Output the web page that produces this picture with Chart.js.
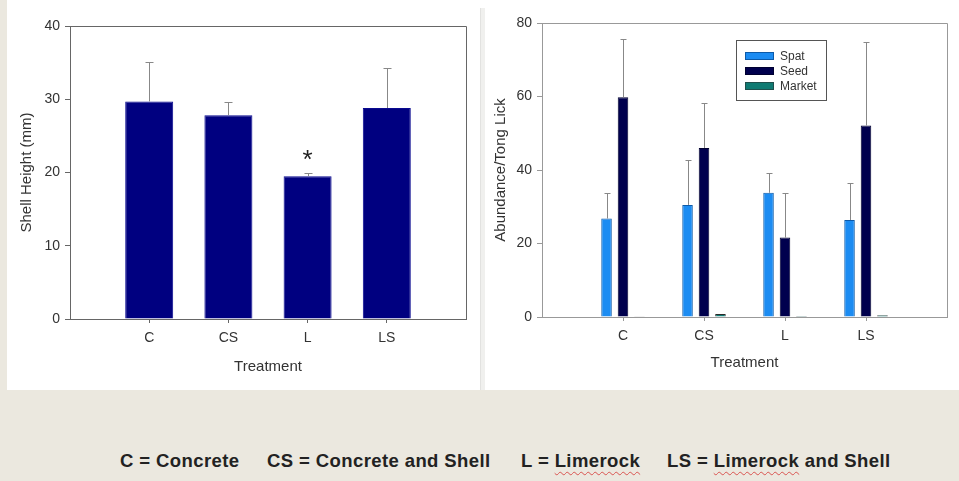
<!DOCTYPE html>
<html>
<head>
<meta charset="utf-8">
<script src="https://cdn.jsdelivr.net/npm/chart.js@4/dist/chart.umd.min.js"></script>
<style>
  html, body { margin: 0; padding: 0; }
  body { width: 959px; height: 481px; background: #ebe8df; position: relative; overflow: hidden; font-family: "Liberation Sans", Arial, sans-serif; }
  .panel { position: absolute; background: #ffffff; }
  .divider { position: absolute; left: 480px; top: 8px; width: 4px; height: 382px; background: #f0f0ee; border-left: 1px solid #e2e2e0; }
  canvas { position: absolute; top: 0; }
  #heightChart { left: 0; }
  #abundanceChart { left: 480px; }
  .key { position: absolute; top: 450px; font-size: 18.5px; font-weight: bold; color: #222; white-space: nowrap; letter-spacing: 0.4px; }
  .spell { text-decoration: underline wavy #d9534f; text-decoration-thickness: 1px; text-underline-offset: 4px; }
</style>
</head>
<body>
<div class="panel" style="left:7px; top:0; width:952px; height:390px;"></div>
<div class="divider"></div>
<canvas id="heightChart" width="480" height="390"></canvas>
<canvas id="abundanceChart" width="479" height="390"></canvas>

<div class="key" style="left:120px;">C = Concrete</div>
<div class="key" style="left:267px;">CS = Concrete and Shell</div>
<div class="key" style="left:521px;">L = <span class="spell">Limerock</span></div>
<div class="key" style="left:667px;">LS = <span class="spell">Limerock</span> and Shell</div>

<script>
// Treatments (substrates)
const categories = ['C', 'CS', 'L', 'LS'];

// Mean shell height (mm) per treatment, with standard error
const shellHeight = [29.7, 27.8, 19.5, 28.8];
const shellHeightErr = [5.4, 1.8, 0.4, 5.4];
const significance = ['', '', '*', ''];

// Abundance per tong lick by size class, with standard error
const seriesNames = ['Spat', 'Seed', 'Market'];
const spat = [26.8, 30.5, 33.8, 26.4];
const spatErr = [7.0, 12.2, 5.5, 10.1];
const seed = [59.8, 46.0, 21.6, 52.1];
const seedErr = [15.8, 12.2, 12.2, 22.6];
const market = [0.2, 0.8, 0.3, 0.5];
const marketErr = [0, 0, 0, 0];

const heightTicks = [0, 10, 20, 30, 40];
const abundanceTicks = [0, 20, 40, 60, 80];

const FONT = "'Liberation Sans', Arial, sans-serif";
const TEXT = '#333333';

// Categories sit at 1..n on a linear axis running 0..n+1
const toPoints = vals => vals.map((v, i) => ({ x: i + 1, y: v }));

function categoryAxis(axisHeight, titlePad, color) {
  return {
    type: 'linear',
    min: 0,
    max: categories.length + 1,
    offset: false,
    afterBuildTicks: s => { s.ticks = categories.map((c, i) => ({ value: i + 1 })); },
    afterFit: s => { s.height = axisHeight; },
    ticks: {
      autoSkip: false,
      maxRotation: 0,
      padding: 7,
      color: TEXT,
      font: { family: FONT, size: 14 },
      callback: v => categories[v - 1] ?? ''
    },
    grid: { drawOnChartArea: false, drawTicks: true, tickLength: 4, offset: false, color: color },
    border: { display: true, color: color, width: 1 },
    title: { display: true, text: 'Treatment', color: TEXT, font: { family: FONT, size: 15 }, padding: { top: 0, bottom: titlePad } }
  };
}

function valueAxis(ticks, width, titleText, titlePad, color) {
  return {
    type: 'linear',
    min: ticks[0],
    max: ticks[ticks.length - 1],
    afterBuildTicks: s => { s.ticks = ticks.map(v => ({ value: v })); },
    afterFit: s => { s.width = width; },
    ticks: { padding: 5, color: TEXT, font: { family: FONT, size: 14 } },
    grid: { drawOnChartArea: false, drawTicks: true, tickLength: 5, color: color },
    border: { display: true, color: color, width: 1 },
    title: { display: true, text: titleText, color: TEXT, font: { family: FONT, size: 15 }, padding: { top: titlePad, bottom: 0 } }
  };
}

// Closes the plot frame on the top and right
const frame = {
  id: 'frame',
  afterDraw(chart, args, opts) {
    const { ctx, chartArea: a } = chart;
    ctx.save();
    ctx.strokeStyle = opts.color;
    ctx.lineWidth = 1;
    ctx.beginPath();
    ctx.moveTo(Math.round(a.left) + 0.5, Math.round(a.top) + 0.5);
    ctx.lineTo(Math.round(a.right) + 0.5, Math.round(a.top) + 0.5);
    ctx.lineTo(Math.round(a.right) + 0.5, Math.round(a.bottom) + 0.5);
    ctx.stroke();
    ctx.restore();
  }
};

// Upper standard-error whiskers, plus significance marks
const errorBars = {
  id: 'errorBars',
  afterDatasetsDraw(chart, args, opts) {
    const { ctx } = chart;
    const yScale = chart.scales.y;
    ctx.save();
    chart.data.datasets.forEach((ds, di) => {
      if (!ds.errors) return;
      const meta = chart.getDatasetMeta(di);
      meta.data.forEach((bar, j) => {
        const err = ds.errors[j];
        const v = ds.data[j].y;
        const x = Math.round(bar.x) + 0.5;
        const yTop = yScale.getPixelForValue(v + err);
        if (err > 0) {
          ctx.strokeStyle = opts.color;
          ctx.lineWidth = 1;
          ctx.beginPath();
          ctx.moveTo(x, bar.y);
          ctx.lineTo(x, Math.round(yTop) + 0.5);
          ctx.moveTo(x - opts.cap, Math.round(yTop) + 0.5);
          ctx.lineTo(x + opts.cap, Math.round(yTop) + 0.5);
          ctx.stroke();
        }
        const mark = ds.marks && ds.marks[j];
        if (mark) {
          ctx.fillStyle = '#222';
          ctx.font = '26px ' + FONT;
          ctx.textAlign = 'center';
          ctx.textBaseline = 'alphabetic';
          const m = ctx.measureText(mark);
          const cy = yTop - 18;
          ctx.fillText(mark, bar.x, cy + (m.actualBoundingBoxAscent - m.actualBoundingBoxDescent) / 2);
        }
      });
    });
    ctx.restore();
  }
};

// Boxed legend drawn inside the plot
const boxLegend = {
  id: 'boxLegend',
  afterDraw(chart, args, opts) {
    if (!opts.box) return;
    const { ctx } = chart;
    const b = opts.box;
    ctx.save();
    ctx.fillStyle = '#ffffff';
    ctx.fillRect(b.x, b.y, b.w, b.h);
    ctx.strokeStyle = '#555';
    ctx.lineWidth = 1;
    ctx.strokeRect(b.x + 0.5, b.y + 0.5, b.w, b.h);
    ctx.font = '12px ' + FONT;
    ctx.textBaseline = 'middle';
    ctx.textAlign = 'left';
    chart.data.datasets.forEach((ds, i) => {
      const cy = b.y + opts.firstRow + i * opts.rowGap;
      ctx.fillStyle = ds.backgroundColor;
      ctx.fillRect(b.x + 9, cy - 4, 29, 8);
      ctx.strokeStyle = ds.legendEdge || ds.borderColor;
      ctx.strokeRect(b.x + 9.5, cy - 3.5, 28, 7);
      ctx.fillStyle = TEXT;
      ctx.fillText(ds.label, b.x + 44, cy + 0.5);
    });
    ctx.restore();
  }
};

new Chart(document.getElementById('heightChart'), {
  type: 'bar',
  data: {
    datasets: [{
      label: 'Shell Height',
      data: toPoints(shellHeight),
      errors: shellHeightErr,
      marks: significance,
      backgroundColor: '#000080',
      borderColor: '#0a0a90',
      borderWidth: 1,
      categoryPercentage: 1,
      barPercentage: 0.606
    }]
  },
  options: {
    responsive: false,
    animation: false,
    layout: { padding: { top: 26, right: 14, bottom: 0, left: 0 } },
    plugins: {
      legend: { display: false },
      tooltip: { enabled: false },
      frame: { color: '#666' },
      errorBars: { color: '#888', cap: 4 }
    },
    scales: {
      x: categoryAxis(71, 14, '#666'),
      y: valueAxis(heightTicks, 70, 'Shell Height (mm)', 17.5, '#666')
    }
  },
  plugins: [frame, errorBars]
});

const seriesStyle = [
  { bg: '#1c8cf2', border: '#0d5aa8', edge: '#0d5aa8' },
  { bg: '#00004e', border: '#000030', edge: '#000030' },
  { bg: '#0f7a72', border: '#2a2a2a', edge: '#1f4f4c' }
];
const abundanceSeries = [spat, seed, market];
const abundanceErrs = [spatErr, seedErr, marketErr];

new Chart(document.getElementById('abundanceChart'), {
  type: 'bar',
  data: {
    datasets: seriesNames.map((name, i) => ({
      label: name,
      data: toPoints(abundanceSeries[i]),
      errors: abundanceErrs[i],
      backgroundColor: seriesStyle[i].bg,
      borderColor: seriesStyle[i].border,
      legendEdge: seriesStyle[i].edge,
      borderWidth: 1,
      categoryPercentage: 0.61,
      barPercentage: 0.64
    }))
  },
  options: {
    responsive: false,
    animation: false,
    layout: { padding: { top: 23, right: 12, bottom: 0, left: 0 } },
    plugins: {
      legend: { display: false },
      tooltip: { enabled: false },
      frame: { color: '#999' },
      errorBars: { color: '#888', cap: 3 },
      boxLegend: { box: { x: 256, y: 40, w: 90, h: 60 }, firstRow: 16, rowGap: 15 }
    },
    scales: {
      x: categoryAxis(73, 18.3, '#999'),
      y: valueAxis(abundanceTicks, 62, 'Abundance/Tong Lick', 12, '#999')
    }
  },
  plugins: [frame, errorBars, boxLegend]
});
</script>
</body>
</html>
